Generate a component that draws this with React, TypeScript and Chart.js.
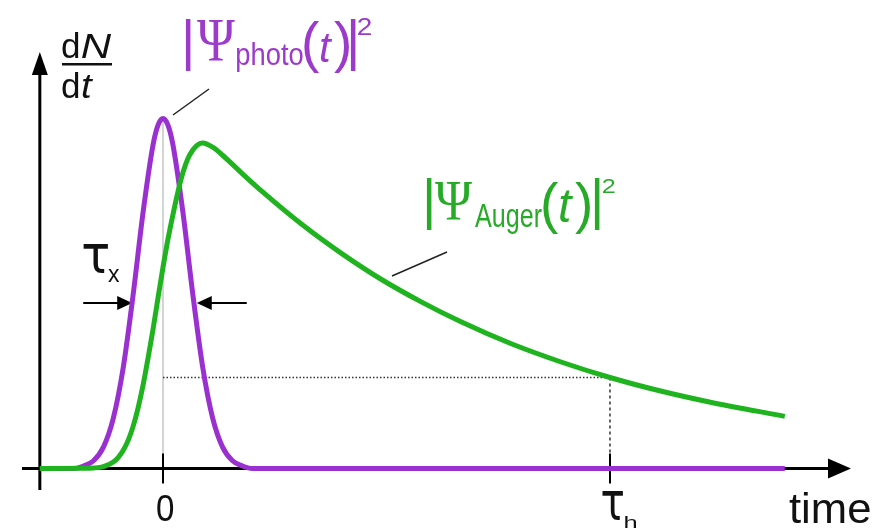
import React, { useEffect, useRef } from 'react';
import { Chart, registerables } from 'chart.js';

Chart.register(...registerables);

// Photoelectron pulse |Ψ_photo(t)|² (normalised to its peak)
const photoTime = [-12.4, -9, -8, -7, -6, -5, -4, -3, -2, -1, -0.5, 0, 0.5, 1, 2, 3, 4, 5, 6, 7, 8, 9, 62.6];
const photoIntensity = [0, 0, 0.007, 0.022, 0.061, 0.144, 0.289, 0.498, 0.733, 0.925, 0.981, 1, 0.981, 0.925, 0.733, 0.498, 0.289, 0.144, 0.061, 0.022, 0.007, 0, 0];

// Auger emission |Ψ_Auger(t)|²: fast rise, exponential decay
const augerTime = [
  -12.4, -8, -7, -6, -5, -4.5, -4, -3.5, -3, -2.5, -2, -1.5, -1, -0.5, 0, 0.5, 1, 1.5, 2, 2.5, 3, 3.5, 4, 5, 6, 8, 10,
  14, 18, 22, 26, 30, 35, 40, 45, 50, 55, 62.6,
];
const augerIntensity = [
  0, 0.0004, 0.0014, 0.0055, 0.0185, 0.032, 0.052, 0.081, 0.121, 0.174, 0.239, 0.316, 0.398, 0.488, 0.575, 0.655,
  0.725, 0.79, 0.845, 0.885, 0.91, 0.925, 0.93, 0.918, 0.895, 0.842, 0.791, 0.697, 0.614, 0.54, 0.476, 0.419, 0.357,
  0.305, 0.26, 0.222, 0.19, 0.149,
];

// Axis ticks on the time axis
const tickTimes = [0, 45];
const tickMain = ['0', 'τ'];
const tickSub = ['', 'h'];

const halfLifeTime = 45;
const pulseArrowTips = [-3.1, 3.4];
const pulseArrowLevel = 0.473;
const axisOrigin = -12.4;

const SANS = '"Liberation Sans", Arial, Helvetica, sans-serif';
const SERIF = '"Liberation Serif", "Times New Roman", serif';
const GREEK = '"DejaVu Sans", sans-serif';
const PURPLE = '#9b30d0';
const GREEN = '#20b320';
const PURPLE_TEXT = '#9b3acb';
const GREEN_TEXT = '#27aa27';

// Draws text so that its ink starts at `left`; optionally squeezes it to an ink width.
function put(
  ctx: CanvasRenderingContext2D,
  text: string,
  left: number,
  baseline: number,
  font: string,
  color: string,
  width?: number
) {
  ctx.save();
  ctx.font = font;
  ctx.fillStyle = color;
  ctx.textAlign = 'left';
  ctx.textBaseline = 'alphabetic';
  const m = ctx.measureText(text);
  const ink = m.actualBoundingBoxRight + m.actualBoundingBoxLeft;
  const s = width ? width / ink : 1;
  ctx.translate(left + m.actualBoundingBoxLeft * s, baseline);
  ctx.scale(s, 1);
  ctx.fillText(text, 0, 0);
  ctx.restore();
}

function seg(ctx: CanvasRenderingContext2D, x1: number, y1: number, x2: number, y2: number) {
  ctx.beginPath();
  ctx.moveTo(x1, y1);
  ctx.lineTo(x2, y2);
  ctx.stroke();
}

function tri(ctx: CanvasRenderingContext2D, pts: number[][]) {
  ctx.beginPath();
  ctx.moveTo(pts[0][0], pts[0][1]);
  ctx.lineTo(pts[1][0], pts[1][1]);
  ctx.lineTo(pts[2][0], pts[2][1]);
  ctx.closePath();
  ctx.fill();
}

const decorations = {
  id: 'decorations',
  beforeDatasetsDraw(chart: any) {
    const { ctx } = chart;
    const xs = chart.scales.x;
    const ys = chart.scales.y;
    const y0 = ys.getPixelForValue(0);
    const xAxis = xs.getPixelForValue(axisOrigin);
    const xZero = xs.getPixelForValue(0);
    ctx.save();

    // faint guide through the pulse maximum
    ctx.strokeStyle = '#c6c6c6';
    ctx.lineWidth = 1.5;
    seg(ctx, xZero, ys.getPixelForValue(1), xZero, y0);

    // half-life guides
    const hv = augerIntensity[augerTime.indexOf(halfLifeTime)];
    const xh = xs.getPixelForValue(halfLifeTime);
    const yh = ys.getPixelForValue(hv);
    ctx.strokeStyle = '#333';
    ctx.lineWidth = 1.5;
    ctx.setLineDash([1.5, 2]);
    seg(ctx, xZero, yh, xh, yh);
    ctx.setLineDash([3, 3]);
    seg(ctx, xh, yh, xh, y0 - 15);
    ctx.setLineDash([]);

    // axes with arrow heads
    ctx.strokeStyle = '#000';
    ctx.fillStyle = '#000';
    ctx.lineWidth = 3;
    seg(ctx, 22, y0, 832, y0);
    tri(ctx, [[851, y0], [828, y0 - 10], [828, y0 + 10]]);
    seg(ctx, xAxis, 490, xAxis, 70);
    tri(ctx, [[xAxis, 52], [xAxis - 8, 75], [xAxis + 8, 75]]);

    // ticks
    ctx.lineWidth = 2;
    tickTimes.forEach((t) => {
      const px = xs.getPixelForValue(t);
      seg(ctx, px, y0 - 15, px, y0 + 15);
    });

    // pointer lines from the labels
    ctx.strokeStyle = '#222';
    ctx.lineWidth = 1.5;
    seg(ctx, 173, 115, 209, 89);
    seg(ctx, 392, 276, 447, 252);

    // τx arrows marking the pulse width
    const ya = ys.getPixelForValue(pulseArrowLevel);
    const lt = xs.getPixelForValue(pulseArrowTips[0]);
    const rt = xs.getPixelForValue(pulseArrowTips[1]);
    ctx.strokeStyle = '#000';
    ctx.fillStyle = '#000';
    ctx.lineWidth = 2;
    seg(ctx, lt - 49, ya, lt - 12, ya);
    tri(ctx, [[lt, ya], [lt - 15, ya - 7], [lt - 15, ya + 7]]);
    seg(ctx, rt + 50, ya, rt + 12, ya);
    tri(ctx, [[rt, ya], [rt + 15, ya - 7], [rt + 15, ya + 7]]);
    ctx.restore();
  },
  afterDatasetsDraw(chart: any) {
    const { ctx } = chart;
    const xs = chart.scales.x;
    const black = '#111';

    // y-axis title dN/dt
    put(ctx, 'd', 62, 58, `35px ${SANS}`, black);
    put(ctx, 'N', 82, 58, `italic 35px ${SANS}`, black, 30);
    ctx.save();
    ctx.fillStyle = black;
    ctx.fillRect(62, 63, 50, 2.5);
    ctx.restore();
    put(ctx, 'd', 62, 98, `35px ${SANS}`, black);
    put(ctx, 't', 82, 98, `italic 35px ${SANS}`, black, 11);

    // tick labels
    tickTimes.forEach((t, i) => {
      const px = xs.getPixelForValue(t);
      if (tickSub[i]) {
        put(ctx, tickMain[i], px - 8, 520, `54px ${GREEK}`, black, 21);
        put(ctx, tickSub[i], px + 15, 528, `17px ${SANS}`, black, 12);
      } else {
        put(ctx, tickMain[i], px - 6, 521, `37px ${SANS}`, black, 17);
      }
    });
    put(ctx, 'time', 789, 523, `42px ${SANS}`, black, 81);

    // τx
    put(ctx, 'τ', 83, 273, `54px ${GREEK}`, black, 25);
    put(ctx, 'x', 108, 282, `23px ${SANS}`, black, 12);

    // |Ψ_photo(t)|²
    put(ctx, '|', 185, 59, `55px ${SANS}`, PURPLE_TEXT);
    put(ctx, 'Ψ', 197, 60, `62px ${SERIF}`, PURPLE_TEXT, 38);
    put(ctx, 'photo', 237, 65, `32px ${SANS}`, PURPLE_TEXT, 66);
    put(ctx, '(', 304, 61, `55px ${SANS}`, PURPLE_TEXT);
    put(ctx, 't', 320, 62, `italic 42px ${SANS}`, PURPLE_TEXT, 13);
    put(ctx, ')', 334, 61, `55px ${SANS}`, PURPLE_TEXT);
    put(ctx, '|', 350, 59, `55px ${SANS}`, PURPLE_TEXT);
    put(ctx, '2', 358, 35, `24px ${SANS}`, PURPLE_TEXT, 14);

    // |Ψ_Auger(t)|²
    put(ctx, '|', 426, 218, `55px ${SANS}`, GREEN_TEXT);
    put(ctx, 'Ψ', 435, 220, `57px ${SERIF}`, GREEN_TEXT, 37);
    put(ctx, 'Auger', 475, 227, `33px ${SANS}`, GREEN_TEXT, 67);
    put(ctx, '(', 543, 222, `55px ${SANS}`, GREEN_TEXT);
    put(ctx, 't', 560, 222, `italic 48px ${SANS}`, GREEN_TEXT, 13);
    put(ctx, ')', 575, 222, `55px ${SANS}`, GREEN_TEXT);
    put(ctx, '|', 594, 218, `55px ${SANS}`, GREEN_TEXT);
    put(ctx, '2', 603, 193, `21px ${SANS}`, GREEN_TEXT, 12);
  },
};

export default function App() {
  const canvasRef = useRef<HTMLCanvasElement | null>(null);

  useEffect(() => {
    const canvas = canvasRef.current;
    if (!canvas) return;
    const chart = new Chart(canvas, {
      type: 'line',
      data: {
        datasets: [
          {
            label: 'Auger',
            data: augerTime.map((t, i) => ({ x: t, y: augerIntensity[i] })),
            borderColor: GREEN,
            borderWidth: 5,
            pointRadius: 0,
            cubicInterpolationMode: 'monotone',
            fill: false,
          },
          {
            label: 'photo',
            data: photoTime.map((t, i) => ({ x: t, y: photoIntensity[i] })),
            borderColor: PURPLE,
            borderWidth: 5,
            pointRadius: 0,
            cubicInterpolationMode: 'monotone',
            fill: false,
          },
        ],
      },
      options: {
        responsive: false,
        animation: false,
        devicePixelRatio: 1,
        layout: { padding: 0 },
        scales: {
          x: { type: 'linear', display: false, min: -16.41, max: 71.38 },
          y: { type: 'linear', display: false, min: -0.1786, max: 1.3386 },
        },
        plugins: {
          legend: { display: false },
          tooltip: { enabled: false },
        },
      } as any,
      plugins: [decorations],
    });
    return () => chart.destroy();
  }, []);

  return (
    <div style={{ position: 'absolute', left: 0, top: 0, width: 872, height: 531, background: '#fff' }}>
      <canvas ref={canvasRef} width={872} height={531} />
    </div>
  );
}
